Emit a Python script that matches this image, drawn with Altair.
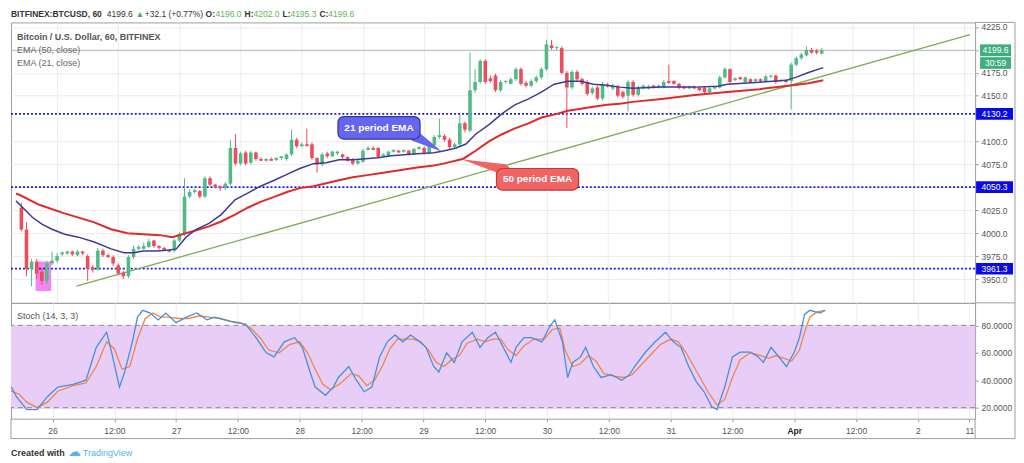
import altair as alt
import pandas as pd

FONT = "Liberation Sans"

# ---------------- candles (hourly, hour 0 = 26 Mar 00:00) ----------------
hours = list(range(-7, 151))
opens = [4028, 4004, 3961, 3969, 3958, 3948, 3967,
         3970, 3977, 3978, 3980, 3976, 3980, 3975, 3963, 3961, 3981, 3976, 3974,
         3965, 3957, 3953, 3974, 3983, 3983, 3985, 3992, 3986, 3984, 3982, 3981,
         3992, 3999, 4040, 4045, 4046, 4040, 4060, 4053, 4051, 4049, 4054, 4093,
         4076, 4088, 4077, 4088, 4081, 4079, 4081, 4080, 4082, 4081, 4086, 4102,
         4095, 4097, 4097, 4082, 4075, 4087, 4084, 4087, 4086, 4083, 4081, 4076,
         4078, 4091, 4093, 4093, 4084, 4084, 4089, 4090, 4089, 4090, 4086, 4092,
         4093, 4088, 4096, 4105, 4106, 4102, 4094, 4097, 4120, 4112, 4156, 4165,
         4188, 4169, 4172, 4156, 4165, 4163, 4168, 4179, 4164, 4161, 4166, 4170,
         4179, 4205, 4202, 4202, 4175, 4159, 4176, 4168, 4165, 4153, 4159, 4147,
         4162, 4158, 4160, 4154, 4150, 4165, 4151, 4159, 4158, 4161, 4159, 4159,
         4166, 4166, 4163, 4160, 4158, 4160, 4159, 4159, 4154, 4158, 4159, 4170,
         4179, 4167, 4170, 4165, 4168, 4166, 4168, 4166, 4171, 4172, 4166, 4167,
         4166, 4184, 4191, 4194, 4200, 4199, 4196]
highs = [4033, 4012, 3972, 3972, 3962, 3970, 3980,
         3978, 3980, 3981, 3981, 3982, 3981, 3977, 3965, 3984, 3983, 3978, 3976,
         3967, 3959, 3976, 3986, 3987, 3990, 3994, 3993, 3987, 3985, 3983, 3994,
         4001, 4060, 4048, 4048, 4047, 4062, 4062, 4054, 4052, 4056, 4102, 4108,
         4089, 4090, 4090, 4089, 4083, 4082, 4083, 4083, 4084, 4087, 4113, 4104,
         4099, 4114, 4099, 4083, 4088, 4089, 4090, 4090, 4087, 4084, 4082, 4080,
         4092, 4095, 4095, 4094, 4087, 4090, 4091, 4091, 4091, 4091, 4093, 4095,
         4095, 4098, 4107, 4125, 4108, 4104, 4099, 4129, 4122, 4197, 4179, 4190,
         4190, 4172, 4174, 4167, 4167, 4170, 4181, 4181, 4166, 4168, 4172, 4181,
         4211, 4211, 4204, 4204, 4177, 4178, 4178, 4170, 4167, 4160, 4161, 4165,
         4164, 4163, 4162, 4156, 4167, 4167, 4161, 4162, 4162, 4162, 4162, 4167,
         4184, 4167, 4164, 4161, 4161, 4161, 4160, 4160, 4160, 4161, 4172, 4181,
         4180, 4170, 4171, 4171, 4169, 4169, 4169, 4173, 4173, 4173, 4168, 4168,
         4186, 4193, 4197, 4204, 4202, 4201, 4202]
lows = [4002, 3953, 3942, 3950, 3944, 3945, 3965,
        3968, 3975, 3976, 3975, 3975, 3976, 3948, 3957, 3959, 3974, 3973, 3964,
        3954, 3950, 3951, 3972, 3981, 3982, 3984, 3984, 3982, 3981, 3979, 3979,
        3990, 3997, 4038, 4043, 4038, 4038, 4051, 4049, 4046, 4047, 4052, 4074,
        4074, 4074, 4075, 4079, 4079, 4078, 4079, 4079, 4080, 4079, 4084, 4093,
        4094, 4095, 4080, 4066, 4073, 4082, 4083, 4085, 4081, 4078, 4074, 4075,
        4077, 4090, 4091, 4082, 4083, 4083, 4088, 4088, 4088, 4085, 4085, 4091,
        4086, 4086, 4094, 4103, 4100, 4092, 4092, 4095, 4110, 4110, 4153, 4163,
        4163, 4164, 4154, 4154, 4163, 4162, 4166, 4161, 4159, 4159, 4164, 4168,
        4177, 4200, 4200, 4173, 4115, 4157, 4166, 4161, 4150, 4151, 4145, 4145,
        4159, 4156, 4148, 4147, 4133, 4149, 4149, 4157, 4157, 4158, 4158, 4158,
        4163, 4162, 4157, 4157, 4157, 4157, 4155, 4152, 4153, 4157, 4158, 4169,
        4163, 4166, 4167, 4164, 4164, 4165, 4164, 4165, 4169, 4163, 4165, 4164,
        4135, 4182, 4189, 4193, 4196, 4195, 4195.3]
closes = [4004, 3961, 3969, 3956, 3948, 3967, 3970,
          3975, 3979, 3980, 3977, 3980, 3978, 3961, 3960, 3981, 3976, 3974, 3967,
          3956, 3953, 3974, 3983, 3985, 3986, 3991, 3986, 3984, 3982, 3980, 3992,
          3999, 4040, 4045, 4047, 4040, 4060, 4053, 4051, 4049, 4054, 4093, 4076,
          4087, 4076, 4088, 4081, 4079, 4081, 4079, 4082, 4084, 4086, 4102, 4095,
          4097, 4095, 4082, 4075, 4086, 4084, 4089, 4089, 4083, 4079, 4076, 4079,
          4090, 4093, 4091, 4083, 4086, 4089, 4091, 4088, 4091, 4086, 4092, 4094,
          4088, 4096, 4105, 4107, 4102, 4094, 4097, 4120, 4113, 4156, 4165, 4188,
          4165, 4166, 4156, 4165, 4166, 4168, 4179, 4163, 4161, 4166, 4170, 4179,
          4206, 4202, 4203, 4175, 4159, 4176, 4168, 4163, 4152, 4158, 4147, 4163,
          4160, 4161, 4150, 4149, 4165, 4151, 4159, 4161, 4160, 4159, 4161, 4165,
          4164, 4163, 4159, 4158, 4160, 4158, 4156, 4154, 4158, 4160, 4170, 4179,
          4165, 4169, 4168, 4170, 4165, 4168, 4166, 4171, 4172, 4165, 4167, 4165,
          4184, 4191, 4195, 4200, 4197, 4197, 4199.6]

# ---------------- EMA lines ----------------
ema21_h = [-8.06, -6.7, -4.8, -2.9, -1.0, 1.5, 4.2, 7.3, 10.6, 13.1,
           15.0, 16.9, 19.6, 22.1, 23.4, 25.3, 27.3, 29.8, 32.2, 34.9,
           37.4, 39.9, 42.6, 45.1, 47.6, 50.3, 52.8, 55.3, 58.0, 60.5,
           63.0, 65.6, 68.1, 70.6, 73.9, 75.8, 78.3, 80.2, 82.1, 84.8,
           87.3, 89.8, 92.5, 95.0, 97.5, 100.2, 102.7, 105.2, 107.9, 110.4,
           112.9, 118.6, 125.1, 129.6, 131.5, 137.8, 143.0, 144.9, 147.4, 150.3]
ema21_v = [4035.3, 4027.8, 4017.1, 4009.6, 4004.3, 3998.9, 3995.7, 3990.4, 3982.9, 3978.6,
           3978.6, 3980.7, 3980.7, 3981.8, 3982.9, 3995.7, 4004.3, 4010.7, 4020.3, 4036.4,
           4043.8, 4051.3, 4057.8, 4064.2, 4070.6, 4075.9, 4077.0, 4080.2, 4080.2, 4081.3,
           4082.4, 4084.5, 4085.6, 4086.6, 4087.7, 4089.8, 4093.0, 4097.3, 4108.0, 4118.7,
           4130.5, 4140.1, 4146.5, 4154.0, 4162.6, 4165.8, 4165.8, 4162.6, 4161.5, 4159.4,
           4158.3, 4159.4, 4159.4, 4160.4, 4162.6, 4164.7, 4166.8, 4170.0, 4175.4, 4180.7]
ema50_h = [-8.06, -7.3, -3.5, 1.0, 7.3, 10.6, 13.8, 16.9, 20.2, 22.6,
           24.6, 27.3, 29.8, 32.2, 34.9, 37.4, 39.9, 42.6, 45.1, 47.6,
           50.3, 52.8, 55.3, 58.0, 60.5, 63.0, 65.6, 68.1, 70.6, 73.9,
           75.8, 79.7, 82.1, 84.8, 87.3, 89.8, 92.5, 95.0, 97.5, 100.2,
           102.7, 105.2, 107.9, 110.4, 112.9, 118.6, 125.1, 131.5, 137.8, 144.3,
           147.4, 150.3]
ema50_v = [4043.0, 4041.7, 4031.0, 4022.5, 4011.8, 4004.3, 4000.0, 3998.9, 3997.9, 3995.7,
           3998.9, 4003.2, 4007.5, 4012.8, 4020.3, 4027.8, 4034.2, 4039.6, 4044.9, 4049.2,
           4051.3, 4054.5, 4057.8, 4061.0, 4063.1, 4065.2, 4067.4, 4069.5, 4071.7, 4073.8,
           4075.9, 4081.3, 4090.0, 4100.5, 4108.0, 4114.4, 4119.8, 4126.2, 4129.4, 4133.7,
           4135.8, 4138.0, 4140.1, 4141.2, 4143.3, 4146.5, 4150.8, 4154.0, 4157.2, 4161.5,
           4163.6, 4166.8]

trend_h = [3.8, 179.1]
trend_v = [3942.2, 4216.6]

level_prices = [4130.2, 4050.3, 3961.3]
level_labels = ["4130.2", "4050.3", "3961.3"]
last_price = 4199.6
tag_prices = [4199.6, 4185.7]
tag_labels = ["4199.6", "30:59"]

# highlighted box (pink) around the low
pink_h = [-4.2, -1.15]
pink_v = [3937, 3969]

# callouts
call_text = ["21 period EMA", "50 period EMA"]
call_h1 = [55.1, 86.2]
call_h2 = [71.2, 102.3]
call_p1 = [4102.7, 4047.0]
call_p2 = [4127.3, 4070.6]
call_fill = ["#6565f2", "#f06464"]
call_stroke = ["#34349a", "#c23a3a"]
ptr_h = [[70.2, 75.2], [87.7, 79.7]]
ptr_p = [[4106.0, 4090.0], [4069.5, 4080.2]]

# ---------------- stochastic ----------------
k_h = [-8, -7, -5, -3, -1, 1, 4, 6.5, 8.5, 10.5,
       11.5, 13, 14, 15.5, 16.5, 17.5, 19, 20.5, 22, 24,
       26, 28, 30, 31.5, 33.5, 35.5, 37.5, 39.5, 41.5, 43,
       45, 47, 48.5, 50, 51, 53, 54.5, 55.5, 57.5, 59,
       60.5, 62, 63.5, 65, 66.5, 68, 69.5, 71, 72.5, 74,
       75, 76.5, 78, 79.5, 81.5, 83, 84.5, 86, 87.5, 89,
       90, 91.5, 93, 95, 96.5, 97.5, 99, 100, 101, 102.5,
       103.5, 105, 106.5, 108.5, 110.5, 112, 113, 115, 117, 119,
       120.5, 122, 123.5, 125, 126.5, 128, 129, 130.5, 132, 133.5,
       135.5, 137, 138, 139.5, 141, 142.5, 144, 145, 146, 147,
       149, 150]
k_v = [35, 28, 18.6, 18.6, 28, 35, 37, 40, 64, 75,
       60, 35, 46, 68, 86, 91, 89, 84, 89, 82,
       86, 89, 84, 86, 84, 82, 81, 71, 60, 57,
       68, 71, 64, 46, 35, 29, 35, 42, 50, 40,
       31.6, 35, 57, 68, 73, 68, 73, 69, 64, 50,
       46, 60, 53, 68, 75, 64, 71, 75, 64, 53,
       64, 71, 71, 68, 79, 84, 68, 42, 53, 57,
       64, 50, 42, 44, 40, 44, 50, 60, 68, 75,
       68, 64, 50, 38.8, 31.6, 20.7, 18.6, 35, 57, 60.5,
       60.5, 57, 53, 64, 57, 50, 60.5, 71, 88, 91,
       89, 91]
d_h = [-8, -6.5, -5, -3, -1, 1, 4, 6.5, 8.5, 10.5,
       12, 13.5, 15, 16.5, 18, 19.5, 21, 22.5, 24.5, 26.5,
       28.5, 30.5, 32.5, 34.5, 36.5, 38.5, 40.5, 42, 44, 46,
       48, 49.5, 51, 52.5, 54, 56, 58, 59.5, 61, 62.5,
       64, 65.5, 67, 68.5, 70, 71.5, 73, 74.5, 76, 77.5,
       79, 80.5, 82.5, 84, 85.5, 87, 88.5, 90, 91.5, 93.5,
       95.5, 97, 98.5, 99.5, 101, 102.5, 104, 105.5, 107, 109,
       111, 112.5, 114, 116, 118, 120, 121.5, 123, 124.5, 126,
       127.5, 129, 130.5, 132, 133.5, 135.5, 137.5, 139, 140.5, 142,
       143.5, 145, 146, 147, 148.5, 150]
d_v = [32, 30, 24, 20, 24, 32, 36, 38, 50, 68,
       63, 48, 50, 70, 85, 89, 86, 86, 85, 85,
       87, 86, 85, 83, 82, 78, 70, 62, 60, 66,
       68, 60, 48, 37, 33, 38, 45, 43, 36, 40,
       50, 63, 70, 70, 70, 68, 62, 53, 50, 55,
       58, 67, 70, 68, 70, 70, 62, 58, 65, 70,
       70, 77, 78, 62, 50, 52, 58, 54, 45, 43,
       42, 44, 50, 58, 66, 70, 68, 60, 50, 40,
       30, 22, 26, 42, 55, 60, 58, 56, 58, 56,
       54, 62, 75, 86, 90, 91]

# ---------------- axes labels ----------------
x_tick_vals = [0, 12, 24, 36, 48, 60, 72, 84, 96, 108, 120, 132, 144, 156, 168, 178]
x_tick_labels = ["26", "12:00", "27", "12:00", "28", "12:00", "29", "12:00",
                 "30", "12:00", "31", "12:00", "Apr", "12:00", "2", "11"]
price_ticks = [3950, 3975, 4000, 4025, 4050, 4075, 4100, 4125, 4150, 4175, 4200, 4225]
hidden_price_labels = [4125, 4200]  # covered by the price tags in the original
stoch_ticks = [20, 40, 60, 80]

header_segments = [  # text, x, color, weight
    ("BITFINEX:BTCUSD, 60", 0, "#333333", "bold"),
    ("4199.6", 96, "#333333", "normal"),
    ("\u25b2", 125, "#4caf50", "normal"),
    ("+32.1 (+0.77%)", 134, "#333333", "normal"),
    ("O:", 195, "#333333", "bold"),
    ("4196.0", 205, "#5cb85c", "normal"),
    ("H:", 234, "#333333", "bold"),
    ("4202.0", 243, "#5cb85c", "normal"),
    ("L:", 272, "#333333", "bold"),
    ("4195.3", 280, "#5cb85c", "normal"),
    ("C:", 309, "#333333", "bold"),
    ("4199.6", 318, "#5cb85c", "normal"),
]
legend_lines = ["Bitcoin / U.S. Dollar, 60, BITFINEX", "EMA (50, close)", "EMA (21, close)"]

# ---------------- layout ----------------
W, H1, H2 = 966, 281, 116
xs = alt.Scale(domain=[-8.06, 179.1], nice=False, zero=False)
ps = alt.Scale(domain=[3924, 4230], nice=False, zero=False)
ss = alt.Scale(domain=[12, 96.4], nice=False, zero=False)

GRID = "#ececec"
x_axis_top = alt.Axis(values=x_tick_vals, labels=False, ticks=False, domain=False,
                      grid=True, gridColor=GRID, title=None)
label_expr = ("[" + ",".join("'" + s + "'" for s in x_tick_labels) + "][indexof(["
              + ",".join(str(v) for v in x_tick_vals) + "], datum.value)]")
x_axis_bottom = alt.Axis(values=x_tick_vals, labelExpr=label_expr, grid=True, gridColor=GRID,
                         domain=False, ticks=True, tickColor="#999999", tickSize=3,
                         labelColor={"condition": {"test": "datum.value == 144", "value": "#222222"}, "value": "#555555"},
                         labelFontWeight={"condition": {"test": "datum.value == 144", "value": "bold"}, "value": "normal"},
                         labelFontSize=8.5, labelPadding=5, labelFlush=False, labelOverlap=False, title=None)
price_label_expr = ("indexof([" + ",".join(str(v) for v in hidden_price_labels)
                    + "], datum.value) >= 0 ? '' : format(datum.value, '.1f')")
py_axis = alt.Axis(orient="right", values=price_ticks, labelExpr=price_label_expr, grid=True, gridColor=GRID,
                   domain=False, tickColor="#999999", tickSize=3, labelColor="#555555",
                   labelFontSize=8.5, labelPadding=3, labelFlush=False, title=None)
sy_axis = alt.Axis(orient="right", values=stoch_ticks, format=".4f", grid=True, gridColor="#dcc4ee",
                   domain=False, tickColor="#999999", tickSize=3, labelColor="#555555",
                   labelFontSize=8.5, labelPadding=3, labelFlush=False, title=None)

X = alt.X("h:Q", scale=xs, axis=x_axis_top)
XB = alt.X("h:Q", scale=xs, axis=x_axis_bottom)


def PY(field):
    return alt.Y(field, scale=ps, axis=py_axis)


def SY(field):
    return alt.Y(field, scale=ss, axis=sy_axis)


one = pd.DataFrame({"k": [0]})


def label(txt, px, py, color, size=9.0, weight="normal", align="left", font=FONT):
    return alt.Chart(one).mark_text(text=txt, color=color, fontSize=size, fontWeight=weight,
                                    align=align, baseline="middle", font=font).encode(
        x=alt.value(px), y=alt.value(py))


def frame_rule(x1, x2, y1, y2, color="#9e9e9e"):
    enc = {"x": alt.value(x1), "y": alt.value(y1)}
    if x2 is not None:
        enc["x2"] = alt.value(x2)
    if y2 is not None:
        enc["y2"] = alt.value(y2)
    return alt.Chart(one).mark_rule(color=color, strokeWidth=1).encode(**enc)


# ---------------- price pane ----------------
candles = pd.DataFrame({"h": hours, "o": opens, "hi": highs, "lo": lows, "c": closes})
candles["dir"] = ["up" if c >= o else "down" for o, c in zip(opens, closes)]
cscale = alt.Scale(domain=["up", "down"], range=["#53b987", "#eb4d5c"])

ema21 = pd.DataFrame({"h": ema21_h, "p": ema21_v})
ema50 = pd.DataFrame({"h": ema50_h, "p": ema50_v})
trend = pd.DataFrame({"h": trend_h, "p": trend_v})
levels = pd.DataFrame({"p": level_prices, "label": level_labels})
lastp = pd.DataFrame({"p": [last_price]})
pink = pd.DataFrame({"h": [pink_h[0]], "h2": [pink_h[1]], "p": [pink_v[0]], "p2": [pink_v[1]]})
calls = pd.DataFrame({"h": call_h1, "h2": call_h2, "p": call_p1, "p2": call_p2,
                      "txt": call_text, "fill": call_fill, "stroke": call_stroke})
calls["hm"] = [(a + b) / 2 for a, b in zip(call_h1, call_h2)]
calls["pm"] = [(a + b) / 2 for a, b in zip(call_p1, call_p2)]
ptr_rows = []
for i in range(2):
    ptr_rows.append({"id": i, "o": 0, "h": ptr_h[i][0], "p": ptr_p[i][0], "w": 11, "fill": call_fill[i]})
    ptr_rows.append({"id": i, "o": 1, "h": ptr_h[i][1], "p": ptr_p[i][1], "w": 0.5, "fill": call_fill[i]})
ptrs = pd.DataFrame(ptr_rows)
tags = pd.DataFrame({"p": tag_prices, "label": tag_labels})

layers = []
layers.append(alt.Chart(pink).mark_rect(color="#f27ff0", opacity=0.95).encode(
    x=X, x2="h2:Q", y=PY("p:Q"), y2="p2:Q"))
layers.append(alt.Chart(lastp).mark_rule(color="#a8a8a8", strokeWidth=0.8).encode(y=PY("p:Q")))
layers.append(alt.Chart(levels).mark_rule(color="#1c1ce0", strokeWidth=1.7, strokeDash=[2, 2]).encode(y=PY("p:Q")))
layers.append(alt.Chart(trend).mark_line(color="#7cad5a", strokeWidth=1.3).encode(x=X, y=PY("p:Q")))
layers.append(alt.Chart(candles).mark_rule(strokeWidth=1).encode(
    x=X, y=PY("lo:Q"), y2="hi:Q", color=alt.Color("dir:N", scale=cscale, legend=None)))
layers.append(alt.Chart(candles).mark_bar(size=3.6).encode(
    x=X, y=PY("o:Q"), y2="c:Q", color=alt.Color("dir:N", scale=cscale, legend=None)))
layers.append(alt.Chart(ema50).mark_line(color="#e02a2a", strokeWidth=2).encode(x=X, y=PY("p:Q")))
layers.append(alt.Chart(ema21).mark_line(color="#3c3c96", strokeWidth=1.5).encode(x=X, y=PY("p:Q")))
layers.append(alt.Chart(ptrs).mark_trail().encode(
    x=X, y=PY("p:Q"), detail="id:N", order="o:Q",
    size=alt.Size("w:Q", scale=None, legend=None), color=alt.Color("fill:N", scale=None)))
layers.append(alt.Chart(calls).mark_rect(cornerRadius=6, strokeWidth=1.2).encode(
    x=X, x2="h2:Q", y=PY("p:Q"), y2="p2:Q",
    fill=alt.Fill("fill:N", scale=None), stroke=alt.Stroke("stroke:N", scale=None)))
layers.append(alt.Chart(calls).mark_text(color="white", fontSize=10, fontWeight="bold", font=FONT).encode(
    x=alt.X("hm:Q", scale=xs, axis=x_axis_top), y=PY("pm:Q"), text="txt:N"))
# right-axis tags
layers.append(alt.Chart(levels).transform_calculate(lo="datum.p - 6.3", hi="datum.p + 6.3").mark_rect(
    color="#0a0ae6").encode(x=alt.value(W + 1), x2=alt.value(W + 38), y=PY("lo:Q"), y2="hi:Q"))
layers.append(alt.Chart(levels).mark_text(color="white", fontSize=8.5, font=FONT).encode(
    x=alt.value(W + 19.5), y=PY("p:Q"), text="label:N"))
layers.append(alt.Chart(tags).transform_calculate(lo="datum.p - 6.4", hi="datum.p + 6.4").mark_rect(
    color="#3fae7e").encode(x=alt.value(W + 5), x2=alt.value(W + 36), y=PY("lo:Q"), y2="hi:Q"))
layers.append(alt.Chart(tags).mark_text(color="white", fontSize=8.5, font=FONT).encode(
    x=alt.value(W + 20.5), y=PY("p:Q"), text="label:N"))
# legend texts
layers.append(label(legend_lines[0], 6, 15, "#555555", 9, "bold"))
layers.append(label(legend_lines[1], 6, 28, "#666666", 9))
layers.append(label(legend_lines[2], 6, 41, "#666666", 9))
# header
for txt, px, col, wt in header_segments:
    layers.append(label(txt, px, -8, col, 8.5, wt))
# frame of the axis column
layers.append(frame_rule(W, W + 40, 0, None))
layers.append(frame_rule(W + 40, None, 0, H1))
layers.append(frame_rule(W, W + 40, H1, None))

price = alt.layer(*layers).properties(width=W, height=H1)

# ---------------- stochastic pane ----------------
band = pd.DataFrame({"lo": [20], "hi": [80]})
bounds_df = pd.DataFrame({"p": [80, 20]})
kdf = pd.DataFrame({"h": k_h, "v": k_v})
ddf = pd.DataFrame({"h": d_h, "v": d_v})

slayers = []
slayers.append(alt.Chart(band).mark_rect(color="#e8cdf7").encode(
    x=alt.value(0), x2=alt.value(W), y=SY("lo:Q"), y2="hi:Q"))
slayers.append(alt.Chart(bounds_df).mark_rule(color="#8a8a8a", strokeDash=[5, 4], strokeWidth=1).encode(
    y=SY("p:Q")))
slayers.append(alt.Chart(ddf).mark_line(color="#f0864a", strokeWidth=1.3).encode(x=XB, y=SY("v:Q")))
slayers.append(alt.Chart(kdf).mark_line(color="#4a8fd6", strokeWidth=1.3).encode(x=XB, y=SY("v:Q")))
slayers.append(label("Stoch (14, 3, 3)", 6, 13, "#555555", 9))
# frames around axis row and axis column
slayers.append(frame_rule(W + 40, None, 0, H2 + 20))
slayers.append(frame_rule(0, W + 40, H2 + 20, None))
slayers.append(frame_rule(0, None, H2, H2 + 20))
slayers.append(frame_rule(W, None, H2, H2 + 20))
# footer
slayers.append(label("Created with", 0, H2 + 34, "#333333", 9, "bold"))
slayers.append(label("\u2601", 57, H2 + 33, "#5ab4e6", 13, "normal", "left", "DejaVu Sans"))
slayers.append(label("TradingView", 72, H2 + 34, "#5ab4e6", 9))

stoch = alt.layer(*slayers).properties(width=W, height=H2)

chart = alt.vconcat(price, stoch, spacing=0, bounds="flush").properties(
    padding={"left": 0, "top": 1, "right": 0, "bottom": 0}
).configure(font=FONT).configure_view(stroke="#9e9e9e", strokeWidth=1)

chart.save("out.html", embed_options={"renderer": "svg", "actions": False})
